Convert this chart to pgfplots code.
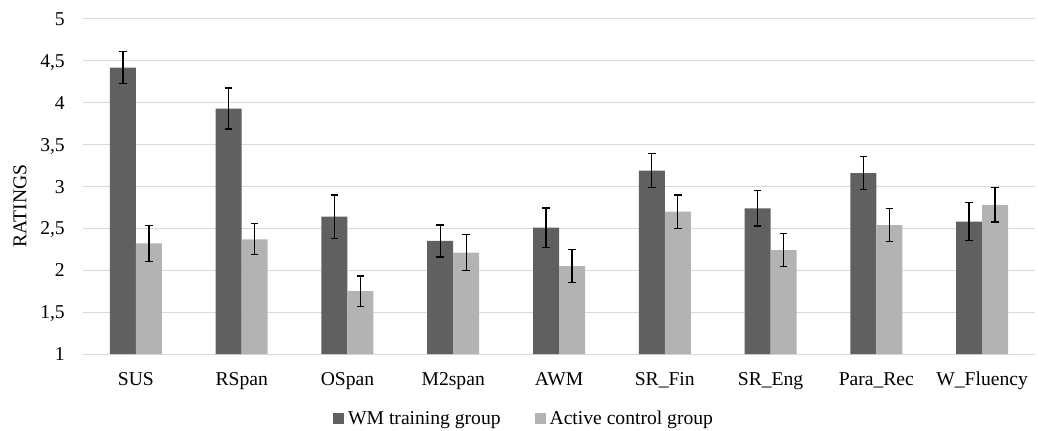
\documentclass[border=0pt]{standalone}
\usepackage{fontspec}
\setmainfont{Liberation Serif}
\usepackage{pgfplots}
\pgfplotsset{compat=1.18}
\definecolor{darkbar}{HTML}{606060}
\definecolor{lightbar}{HTML}{B3B3B3}
\definecolor{gridc}{HTML}{D9D9D9}
\begin{document}
\begin{tikzpicture}
\begin{axis}[
  scale only axis, width=952pt, height=335pt,
  ymin=1, ymax=5, xmin=-0.5, xmax=8.5,
  ybar=0pt, bar width=26pt,
  ytick={1,1.5,2,2.5,3,3.5,4,4.5,5},
  xtick={0,1,2,3,4,5,6,7,8},
  xticklabels={SUS,RSpan,OSpan,M2span,AWM,SR\_Fin,SR\_Eng,Para\_Rec,W\_Fluency},
  axis line style={draw=none},
  major tick length=0pt,
  ymajorgrids, grid style={gridc, line width=1pt},
  font=\fontsize{19.6}{23.5}\selectfont,
  /pgf/number format/use comma,
  /pgf/number format/assume math mode=true,
  yticklabel style={anchor=base east, inner sep=0pt, xshift=-18pt, yshift=-6.6pt},
  xticklabel style={anchor=base, inner sep=0pt, yshift=-31pt},
  ylabel={RATINGS},
  ylabel style={at={(axis description cs:-0.0662,0.442)}, anchor=center},
  legend columns=2,
  legend style={at={(axis description cs:0.2626,-0.191)}, anchor=west, draw=none, fill=none, inner sep=0pt,
    nodes={inner sep=0pt, anchor=base},
    /tikz/every odd column/.append style={column sep=4pt},
    /tikz/every even column/.append style={column sep=34pt}},
  legend image code/.code={\fill[#1,draw=none] (0pt,0pt) rectangle (11pt,11pt);},
  error bars/y dir=both, error bars/y explicit,
  error bars/error mark=|,
  error bars/error bar style={black, line width=1.3pt},
  error bars/error mark options={black, line width=1.3pt, mark size=3.8pt},
]
\addplot[fill=darkbar, draw=none] coordinates {
  (0,4.42) +- (0,0.19)
  (1,3.93) +- (0,0.245)
  (2,2.64) +- (0,0.26)
  (3,2.35) +- (0,0.19)
  (4,2.51) +- (0,0.235)
  (5,3.19) +- (0,0.205)
  (6,2.74) +- (0,0.21)
  (7,3.16) +- (0,0.20)
  (8,2.58) +- (0,0.225)
};
\addlegendentry{WM training group}
\addplot[fill=lightbar, draw=none] coordinates {
  (0,2.32) +- (0,0.215)
  (1,2.37) +- (0,0.185)
  (2,1.75) +- (0,0.18)
  (3,2.21) +- (0,0.215)
  (4,2.05) +- (0,0.20)
  (5,2.70) +- (0,0.20)
  (6,2.24) +- (0,0.195)
  (7,2.54) +- (0,0.20)
  (8,2.78) +- (0,0.205)
};
\addlegendentry{Active control group}
\coordinate (bl) at (rel axis cs:0,0);
\coordinate (tr) at (rel axis cs:1,1);
\end{axis}
\path ([xshift=-83pt,yshift=-76pt]bl) rectangle ([xshift=3pt,yshift=19pt]tr);
\end{tikzpicture}
\end{document}
